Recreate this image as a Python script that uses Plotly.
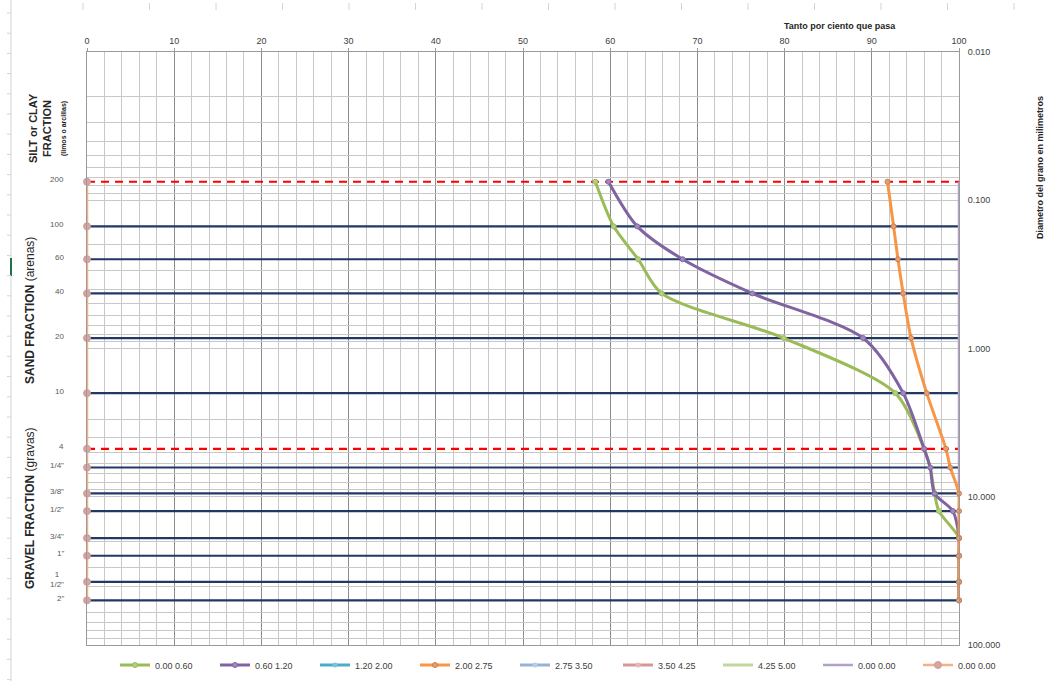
import math
import plotly.graph_objects as go

# ---------------- data ----------------
sieve_labels = ["200", "100", "60", "40", "20", "10", "4", "1/4\"", "3/8\"", "1/2\"",
                "3/4\"", "1\"", "1<br>1/2\"", "2\""]
sieve_mm = [0.075, 0.15, 0.25, 0.425, 0.85, 2.0, 4.75, 6.35, 9.5, 12.5, 19.0, 25.0, 37.5, 50.0]
dashed_sieves = ["200", "4"]

pass_000_060 = [58.3, 60.4, 63.2, 65.9, 79.9, 92.7, 96.0, 96.7, 97.2, 97.7, 100, 100, 100, 100]
pass_060_120 = [59.8, 63.1, 68.3, 76.3, 89.0, 93.6, 96.0, 96.7, 97.2, 99.3, 100, 100, 100, 100]
pass_200_275 = [91.8, 92.5, 93.0, 93.6, 94.5, 96.3, 98.5, 99.0, 100, 100, 100, 100, 100, 100]
pass_right_edge = [100] * len(sieve_mm)
pass_left_edge = [0] * len(sieve_mm)

legend_names = ["0.00 0.60", "0.60 1.20", "1.20 2.00", "2.00 2.75", "2.75 3.50",
                "3.50 4.25", "4.25 5.00", "0.00 0.00", "0.00 0.00"]

pct_ticks = list(range(0, 101, 10))
diam_ticks = [0.01, 0.1, 1, 10, 100]
diam_ticktext = ["0.010", "0.100", "1.000", "10.000", "100.000"]

# ---------------- styles ----------------
FONT = "Liberation Sans, Arial, sans-serif"
W, H = 1047, 681
L, R, T, B = 87, 88, 52, 36
PW, PH = W - L - R, H - T - B


def px2paper(px, py):
    return (px - L) / PW, 1 - (py - T) / PH


fig = go.Figure()

# sieve reference lines
for lab, d in zip(sieve_labels, sieve_mm):
    if lab in dashed_sieves:
        ln = dict(color="#FF0000", width=2.2, dash="8px,6px")
    else:
        ln = dict(color="#1F3864", width=2.2)
    fig.add_trace(go.Scatter(x=[0, 100], y=[d, d], mode="lines", showlegend=False,
                             hoverinfo="skip", line=ln, cliponaxis=False))

# edge series (drawn below curves)
fig.add_trace(go.Scatter(x=pass_right_edge, y=sieve_mm, name=legend_names[7], mode="lines",
                         legend="legend2", legendrank=8, cliponaxis=False,
                         line=dict(color="#B3A2C7", width=2.5)))
fig.add_trace(go.Scatter(x=pass_left_edge, y=sieve_mm, name=legend_names[8], mode="lines+markers",
                         legend="legend2", legendrank=9, cliponaxis=False,
                         line=dict(color="#F4B183", width=2.5),
                         marker=dict(size=7, color="#D9A3A0", line=dict(color="#C9A0A0", width=1))))

# curves
fig.add_trace(go.Scatter(x=pass_000_060, y=sieve_mm, name=legend_names[0], mode="lines+markers",
                         legend="legend", legendrank=1, cliponaxis=False,
                         line=dict(color="#9BBB59", width=3, shape="spline", smoothing=0.8),
                         marker=dict(size=5, color="#B5D07F", line=dict(color="#9BBB59", width=1))))
fig.add_trace(go.Scatter(x=pass_060_120, y=sieve_mm, name=legend_names[1], mode="lines+markers",
                         legend="legend", legendrank=2, cliponaxis=False,
                         line=dict(color="#8064A2", width=3, shape="spline", smoothing=0.8),
                         marker=dict(size=5, color="#A08BBF", line=dict(color="#8064A2", width=1))))
fig.add_trace(go.Scatter(x=[None], y=[None], name=legend_names[2], mode="lines+markers",
                         legend="legend", legendrank=3,
                         line=dict(color="#4BACC6", width=3),
                         marker=dict(size=5, color="#7EC4D8")))
fig.add_trace(go.Scatter(x=pass_200_275, y=sieve_mm, name=legend_names[3], mode="lines+markers",
                         legend="legend", legendrank=4, cliponaxis=False,
                         line=dict(color="#F79646", width=3, shape="spline", smoothing=0.8),
                         marker=dict(size=5, color="#E8A070", line=dict(color="#C88050", width=1))))
fig.add_trace(go.Scatter(x=[None], y=[None], name=legend_names[4], mode="lines+markers",
                         legend="legend", legendrank=5,
                         line=dict(color="#95B3D7", width=3),
                         marker=dict(size=5, color="#B8CCE4")))
fig.add_trace(go.Scatter(x=[None], y=[None], name=legend_names[5], mode="lines+markers",
                         legend="legend2", legendrank=6,
                         line=dict(color="#D99694", width=3),
                         marker=dict(size=5, color="#E6B9B8")))
fig.add_trace(go.Scatter(x=[None], y=[None], name=legend_names[6], mode="lines",
                         legend="legend2", legendrank=7,
                         line=dict(color="#C3D69B", width=3)))

# log grid values
grid_vals = []
for e in range(-2, 2):
    for k in range(1, 10):
        grid_vals.append(round(k * 10 ** e, 6))
grid_vals.append(100)
grid_text = []
for v in grid_vals:
    if v in diam_ticks:
        grid_text.append(diam_ticktext[diam_ticks.index(v)])
    else:
        grid_text.append("")

fig.update_xaxes(range=[0, 100], side="top", tickvals=pct_ticks,
                 ticktext=[str(v) for v in pct_ticks],
                 showgrid=True, gridcolor="#8C8C8C", gridwidth=1,
                 minor=dict(dtick=2, showgrid=True, gridcolor="#C8C8C8", gridwidth=1),
                 showline=True, linecolor="#9A9A9A", linewidth=1, mirror=True,
                 ticks="outside", ticklen=3, tickcolor="#9A9A9A",
                 zeroline=False, tickfont=dict(family=FONT, size=9, color="#404040"))
fig.update_yaxes(type="log", range=[2, -2], side="right", tickvals=grid_vals, ticktext=grid_text,
                 showgrid=True, gridcolor="#C8C8C8", gridwidth=1,
                 showline=True, linecolor="#9A9A9A", linewidth=1, mirror=True,
                 ticks="", zeroline=False, ticklabelstandoff=6,
                 tickfont=dict(family=FONT, size=9, color="#404040"))

ann = []
# sieve labels on the left
for lab, d in zip(sieve_labels, sieve_mm):
    ann.append(dict(x=(66 - L) / PW, xref="paper", y=math.log10(d), yref="y",
                    text=lab, showarrow=False, xanchor="right", yanchor="middle",
                    align="center", yshift=2,
                    font=dict(family=FONT, size=8, color="#595959")))

# fraction labels
x, y = px2paper(48, 128)
ann.append(dict(x=x, y=y, xref="paper", yref="paper", textangle=-90, showarrow=False,
                xanchor="center", yanchor="middle",
                text="<b>SILT or CLAY<br>FRACTION<br><span style='font-size:7px'>(limos o arcillas)</span></b>",
                font=dict(family=FONT, size=11, color="#262626"), align="center"))
x, y = px2paper(30, 311)
ann.append(dict(x=x, y=y, xref="paper", yref="paper", textangle=-90, showarrow=False,
                xanchor="center", yanchor="middle",
                text="<b>SAND FRACTION</b> (arenas)",
                font=dict(family=FONT, size=12, color="#262626")))
x, y = px2paper(30, 508)
ann.append(dict(x=x, y=y, xref="paper", yref="paper", textangle=-90, showarrow=False,
                xanchor="center", yanchor="middle",
                text="<b>GRAVEL FRACTION</b> (gravas)",
                font=dict(family=FONT, size=12, color="#262626")))
# axis titles
x, y = px2paper(840, 26)
ann.append(dict(x=x, y=y, xref="paper", yref="paper", showarrow=False,
                xanchor="center", yanchor="middle",
                text="<b>Tanto por ciento que pasa</b>",
                font=dict(family=FONT, size=9, color="#262626")))
x, y = px2paper(1040, 168)
ann.append(dict(x=x, y=y, xref="paper", yref="paper", textangle=-90, showarrow=False,
                xanchor="center", yanchor="middle",
                text="<b>Diametro del grano en milimetros</b>",
                font=dict(family=FONT, size=9, color="#262626")))

# spreadsheet frame artefacts
shapes = []
x0, _ = px2paper(11, 0)
shapes.append(dict(type="line", xref="paper", yref="paper", x0=x0, x1=x0, y0=px2paper(0, H)[1],
                   y1=px2paper(0, 0)[1], line=dict(color="#D4D4D4", width=1)))
gy0 = px2paper(0, 258)[1]
gy1 = px2paper(0, 276)[1]
shapes.append(dict(type="line", xref="paper", yref="paper", x0=x0, x1=x0, y0=gy0, y1=gy1,
                   line=dict(color="#217346", width=2)))
for k in range(15):
    tx = px2paper(83 + 66.5 * k, 0)[0]
    shapes.append(dict(type="line", xref="paper", yref="paper", x0=tx, x1=tx,
                       y0=px2paper(0, 10)[1], y1=px2paper(0, 3)[1],
                       line=dict(color="#D4D4D4", width=1)))
for k in range(34):
    ty = px2paper(0, 13 + 20.2 * k)[1]
    shapes.append(dict(type="line", xref="paper", yref="paper", x0=px2paper(7, 0)[0], x1=x0,
                       y0=ty, y1=ty, line=dict(color="#D4D4D4", width=1)))

leg_common = dict(orientation="h", yanchor="middle", xanchor="left",
                  entrywidth=55, entrywidthmode="pixels", itemwidth=30,
                  font=dict(family=FONT, size=9, color="#404040"),
                  bgcolor="rgba(0,0,0,0)", traceorder="normal")
lx1, ly = px2paper(115, 665)
lx2, _ = px2paper(618, 665)
fig.update_layout(
    width=W, height=H, margin=dict(l=L, r=R, t=T, b=B, autoexpand=False),
    paper_bgcolor="white", plot_bgcolor="white",
    annotations=ann, shapes=shapes,
    showlegend=True,
    legend=dict(x=lx1, y=ly, **leg_common),
    legend2=dict(x=lx2, y=ly, **leg_common),
    hovermode=False,
)

fig.write_html("out.html", config={"displayModeBar": False})

# remove the browser's default page margin so the figure sits at the window origin
with open("out.html", "r", encoding="utf-8") as f:
    html = f.read()
html = html.replace("<head>", "<head><style>html,body{margin:0;padding:0;overflow:hidden;}</style>", 1)
with open("out.html", "w", encoding="utf-8") as f:
    f.write(html)
